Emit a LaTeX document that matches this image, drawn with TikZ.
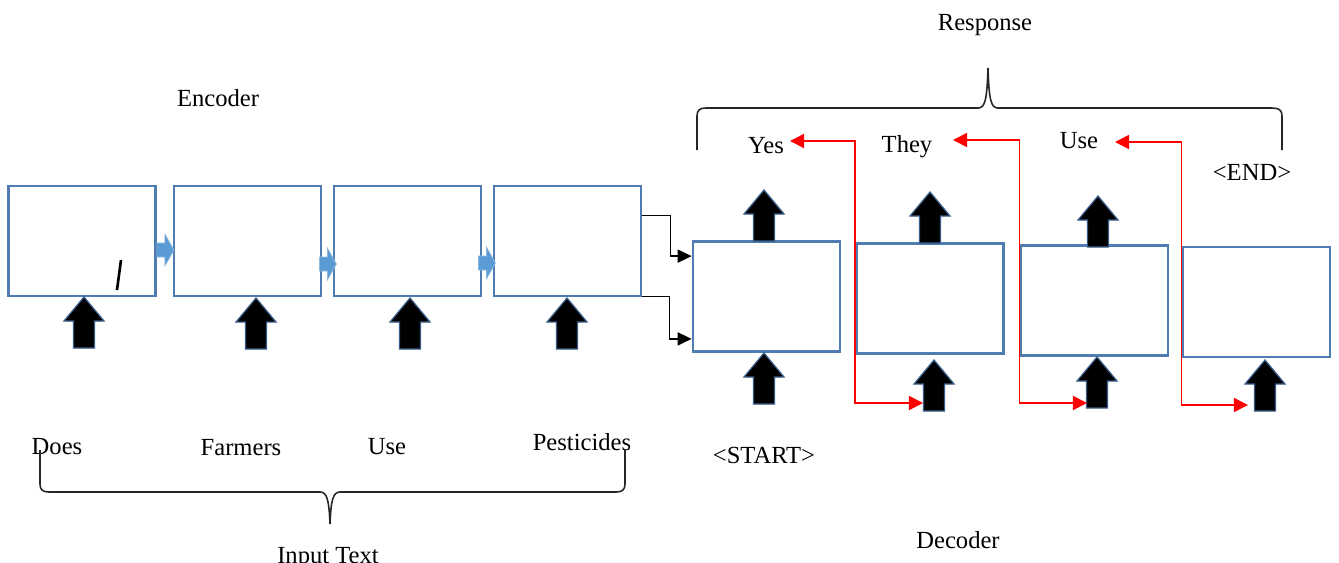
\documentclass[tikz,border=0pt]{standalone}
\usepackage{fontspec}
\setmainfont{Liberation Serif}
\usetikzlibrary{arrows.meta,calc}
\definecolor{boxblue}{RGB}{79,125,178}
\definecolor{edgeblue}{RGB}{56,93,138}
\definecolor{linkblue}{RGB}{91,155,213}
\tikzset{
  cell/.style={draw=boxblue,line width=1.6pt,fill=white,minimum width=2.94cm,minimum height=2.2cm,inner sep=0},
  word/.style={font=\fontsize{14}{16}\selectfont,inner sep=1pt},
  feed/.style={draw=red,line width=0.9pt,{Triangle[length=8pt,width=8pt]}-{Triangle[length=8pt,width=8pt]}},
  link/.style={draw=black,line width=0.9pt,-{Triangle[length=8pt,width=7.5pt]}},
  brace/.style={draw=black!85,line width=0.9pt},
  pics/upblk/.style={code={
    \draw[fill=black,draw=edgeblue,line width=0.7pt] (0,0) -- (20,24) -- (10.5,24) -- (10.5,51) -- (-10.5,51) -- (-10.5,24) -- (-20,24) -- cycle;}},
  pics/rightblk/.style={code={
    \draw[fill=linkblue,draw=linkblue!70!white,line width=0.4pt] (0,0) -- (-9,-16) -- (-9,-7) -- (-17,-7) -- (-17,7) -- (-9,7) -- (-9,16) -- cycle;}}
}
\begin{document}
\begin{tikzpicture}[x=0.02cm,y=-0.02cm]
    \useasboundingbox (0,0) rectangle (1339,562);

    % encoder cells
    \node[cell] (e1) at (82,241) {};
    \node[cell] (e2) at (247.5,241) {};
    \node[cell] (e3) at (407.5,241) {};
    \node[cell] (e4) at (567.5,241) {};
    \draw[line width=1.5pt] (121,260) -- (117,290);

    % decoder cells
    \node[cell] (d1) at (766.5,296.5) {};
    \node[cell] (d2) at (930,298.5) {};
    \node[cell] (d3) at (1094.5,300.5) {};
    \node[cell] (d4) at (1256.5,302) {};

    % hidden state passing
    \pic at ($(e1.east)+(17,9)$) {rightblk};
    \pic at ($(e2.east)+(14,23)$) {rightblk};
    \pic at ($(e3.east)+(13,22)$) {rightblk};

    % input / output arrows
    \foreach \x/\y in {84/297,256/298,410/298,567/298,764/190,930/192,1098/196,764/353,934/360,1097/357,1265/360}
        \pic at (\x,\y) {upblk};

    % labels
    \node[word] (response) at (985,25) {Response};
    \node[word] (encoder) at (218,98) {Encoder};
    \node[word] (decoder) at (958,540) {Decoder};
    \node[word] (input) at (328,558) {Input Text};
    \node[word] (yes) at (766,146) {Yes};
    \node[word] (they) at (907,147) {They};
    \node[word] (use2) at (1079,141) {Use};
    \node[word] (end) at (1252,172) {<END>};
    \node[word] (start) at (764,455) {<START>};
    \node[word] (does) at (57,447) {Does};
    \node[word] (farmers) at (241,448) {Farmers};
    \node[word] (use1) at (387,447) {Use};
    \node[word] (pest) at (582,442) {Pesticides};

    % encoder to decoder
    \draw[link] ($(e4.north east)+(0,31)$) -- ++(28,0) |- ($(d1.north west)+(0,16)$);
    \draw[link] ($(e4.south east)+(0,-1)$) -- ++(27,0) |- ($(d1.south west)+(0,-14)$);

    % feedback of outputs
    \coordinate (f1) at (790,141);
    \coordinate (g1) at (923,403);
    \coordinate (f2) at (953,140);
    \coordinate (g2) at (1087,403);
    \coordinate (f3) at (1115,142);
    \coordinate (g3) at (1248,405);
    \draw[feed] (f1) -- (f1 -| d2.west) |- (g1);
    \draw[feed] (f2) -- (f2 -| d3.west) |- (g2);
    \draw[feed] (f3) -- (f3 -| d4.west) |- (g3);

    % braces
    \draw[brace] (697,150) -- (697,116) .. controls (697,110) and (700,108) .. (706,108) -- (978,108)
        .. controls (985,108) and (987,100) .. (988,68) .. controls (989,100) and (991,108) .. (998,108)
        -- (1272,108) .. controls (1279,108) and (1282,110) .. (1282,116) -- (1282,150);
    \draw[brace] (40,450) -- (40,484) .. controls (40,490) and (43,492) .. (49,492) -- (320,492)
        .. controls (327,492) and (329,500) .. (330,524) .. controls (331,500) and (333,492) .. (340,492)
        -- (616,492) .. controls (622,492) and (625,490) .. (625,484) -- (625,450);
\end{tikzpicture}
\end{document}
